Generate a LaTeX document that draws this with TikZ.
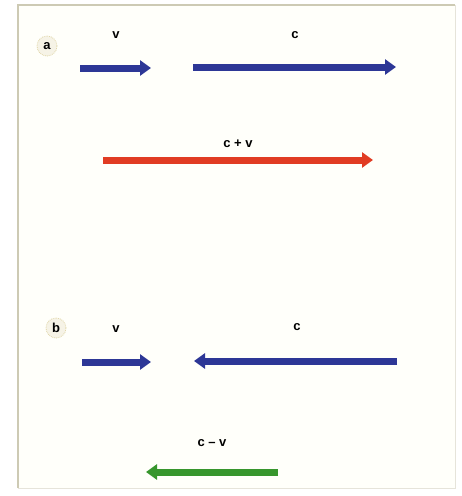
\documentclass[tikz,border=0pt]{standalone}
\usepackage{fontspec}
\setmainfont{Liberation Sans}
\usetikzlibrary{arrows.meta}
\definecolor{bgc}{RGB}{255,255,250}
\definecolor{framec}{RGB}{205,202,180}
\definecolor{vblue}{RGB}{45,55,150}
\definecolor{vred}{RGB}{225,60,35}
\definecolor{vgreen}{RGB}{55,150,45}
\definecolor{circc}{RGB}{225,215,170}
\tikzset{
  vec/.style={line width=7pt,-{Triangle[length=11pt,width=15pt]}},
  lbl/.style={font=\bfseries\fontsize{13}{14}\selectfont,inner sep=1pt},
  tag/.style={circle,draw=circc,fill=circc!30,densely dotted,line width=0.8pt,minimum size=20pt,inner sep=0pt,font=\bfseries\fontsize{13}{14}\selectfont}
}
\begin{document}
\begin{tikzpicture}[x=1pt,y=-1pt]
\useasboundingbox (0,0) rectangle (462,496);
\fill[white] (0,0) rectangle (462,496);
\fill[bgc] (18,5) rectangle (455,488);
\draw[framec,line width=1.2pt] (18,488) -- (18,5) -- (455,5);
\draw[framec!50,line width=0.6pt] (455,5) -- (455,488) -- (18,488);
% part a
\node[tag] (ta) at (47,46) {a};
\node[lbl] (lv1) at (116,35) {v};
\node[lbl] (lc1) at (295,35) {c};
\coordinate (v1s) at (80,68);
\coordinate (v1e) at (151,68);
\coordinate (c1s) at (193,67);
\coordinate (c1e) at (396,67);
\draw[vec,vblue] (v1s) -- (v1e);
\draw[vec,vblue] (c1s) -- (c1e);
\node[lbl] (lsum) at (238,144) {c + v};
\coordinate (rs) at (103,160);
\coordinate (re) at (373,160);
\draw[vec,vred] (rs) -- (re);
% part b
\node[tag] (tb) at (56,328) {b};
\node[lbl] (lv2) at (116,329) {v};
\node[lbl] (lc2) at (297,327) {c};
\coordinate (v2s) at (82,362);
\coordinate (v2e) at (151,362);
\coordinate (c2s) at (397,361);
\coordinate (c2e) at (194,361);
\draw[vec,vblue] (v2s) -- (v2e);
\draw[vec,vblue] (c2s) -- (c2e);
\node[lbl] (ldiff) at (212,443) {c – v};
\coordinate (gs) at (278,472);
\coordinate (ge) at (146,472);
\draw[vec,vgreen] (gs) -- (ge);
\end{tikzpicture}
\end{document}
